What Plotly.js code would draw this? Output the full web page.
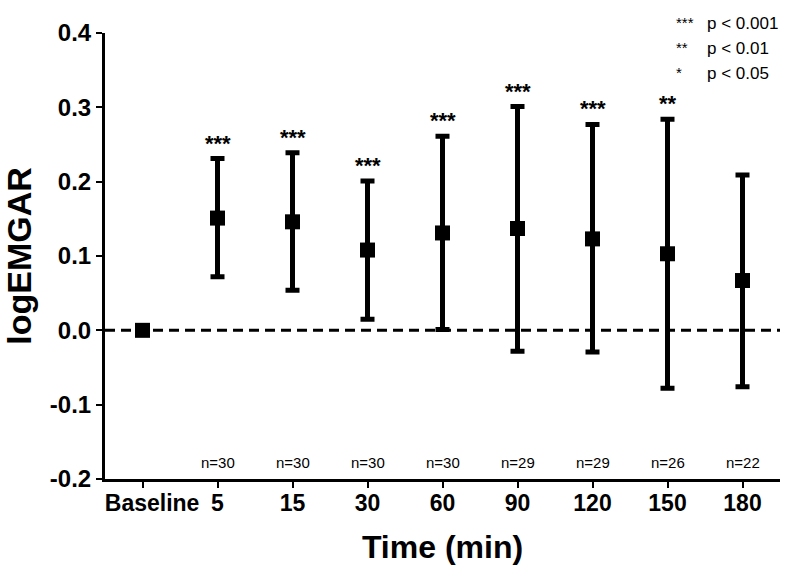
<!DOCTYPE html>
<html>
<head>
<meta charset="utf-8">
<script src="https://cdn.plot.ly/plotly-3.0.1.min.js"></script>
<style>
  html, body { margin: 0; padding: 0; background: #fff; }
  #chart { width: 785px; height: 572px; }
</style>
</head>
<body>
<div id="chart"></div>
<script>
// values
var times = ['Baseline', '5', '15', '30', '60', '90', '120', '150', '180'];
var meanVals = [0, 0.151, 0.146, 0.108, 0.131, 0.137, 0.123, 0.103, 0.067];
var upperVals = [0, 0.231, 0.239, 0.201, 0.261, 0.301, 0.277, 0.284, 0.209];
var lowerVals = [0, 0.072, 0.054, 0.015, 0.001, -0.028, -0.029, -0.078, -0.076];
var sigStars = ['', '***', '***', '***', '***', '***', '***', '**', ''];
var nLabels = ['', 'n=30', 'n=30', 'n=30', 'n=30', 'n=29', 'n=29', 'n=26', 'n=22'];

// the original label sits a little right of its tick, hence the padding
var xTickText = ['\u00a0\u00a0\u00a0Baseline', '5', '15', '30', '60', '90', '120', '150', '180'];
var yTickVals = [-0.2, -0.1, 0, 0.1, 0.2, 0.3, 0.4];
var yTickText = ['-0.2', '-0.1', '0.0', '0.1', '0.2', '0.3', '0.4'];

var legendStars = ['***', '**', '*'];
var legendText = ['p < 0.001', 'p < 0.01', 'p < 0.05'];

var font = 'Liberation Sans, Arial, sans-serif';

var errPlus = upperVals.map(function (u, i) { return u - meanVals[i]; });
var errMinus = lowerVals.map(function (l, i) { return meanVals[i] - l; });

var trace = {
    x: times,
    y: meanVals,
    type: 'scatter',
    mode: 'markers',
    marker: { symbol: 'square', size: 15, color: '#000' },
    error_y: {
        type: 'data',
        symmetric: false,
        array: errPlus,
        arrayminus: errMinus,
        color: '#000',
        thickness: 5,
        width: 7
    },
    hoverinfo: 'skip'
};

var annotations = [];

// significance stars above each bar and n= counts near the bottom
// (x given as category index so '5', '15'... are not read as positions)
times.forEach(function (t, i) {
    if (sigStars[i]) {
        annotations.push({
            x: i, y: upperVals[i], xref: 'x', yref: 'y',
            text: sigStars[i], showarrow: false,
            yanchor: 'bottom', yshift: 1,
            font: { family: font, size: 22, color: '#000', weight: 'bold' }
        });
    }
    if (nLabels[i]) {
        annotations.push({
            x: i, y: -0.178, xref: 'x', yref: 'y',
            text: nLabels[i], showarrow: false,
            font: { family: font, size: 15, color: '#000' }
        });
    }
});

// key in the top right corner
legendStars.forEach(function (s, i) {
    var yp = 1.047 - i * 0.056;
    annotations.push({
        x: 0.843, y: yp, xref: 'paper', yref: 'paper',
        text: s, showarrow: false, xanchor: 'left',
        font: { family: font, size: 15, color: '#000' }
    });
    annotations.push({
        x: 0.889, y: yp, xref: 'paper', yref: 'paper',
        text: legendText[i], showarrow: false, xanchor: 'left',
        font: { family: font, size: 17, color: '#000' }
    });
});

var layout = {
    width: 785,
    height: 572,
    margin: { l: 105, r: 5, t: 33, b: 93 },
    paper_bgcolor: '#fff',
    plot_bgcolor: '#fff',
    showlegend: false,
    xaxis: {
        type: 'category',
        range: [-0.5, 8.5],
        tickvals: times,
        ticktext: xTickText,
        showgrid: false,
        zeroline: false,
        showline: true,
        linecolor: '#000',
        linewidth: 3,
        ticks: 'outside',
        ticklen: 6,
        tickwidth: 2,
        tickcolor: '#000',
        ticklabelstandoff: -5,
        tickfont: { family: font, size: 23, color: '#000', weight: 'bold' },
        title: {
            text: 'Time (min)',
            standoff: 22,
            font: { family: font, size: 32, color: '#000', weight: 'bold' }
        },
        fixedrange: true
    },
    yaxis: {
        range: [-0.2, 0.4],
        tickvals: yTickVals,
        ticktext: yTickText,
        showgrid: false,
        zeroline: false,
        showline: true,
        linecolor: '#000',
        linewidth: 3,
        ticks: 'outside',
        ticklen: 6,
        tickwidth: 2,
        tickcolor: '#000',
        tickfont: { family: font, size: 24, color: '#000', weight: 'bold' },
        title: {
            text: 'logEMGAR',
            standoff: 18,
            font: { family: font, size: 34, color: '#000', weight: 'bold' }
        },
        fixedrange: true
    },
    shapes: [{
        type: 'line', xref: 'paper', yref: 'y',
        x0: 0, x1: 1, y0: 0, y1: 0,
        line: { color: '#000', width: 3, dash: '10px,6px' },
        layer: 'below'
    }],
    annotations: annotations
};

Plotly.newPlot('chart', [trace], layout, { displayModeBar: false, staticPlot: true });
</script>
</body>
</html>
